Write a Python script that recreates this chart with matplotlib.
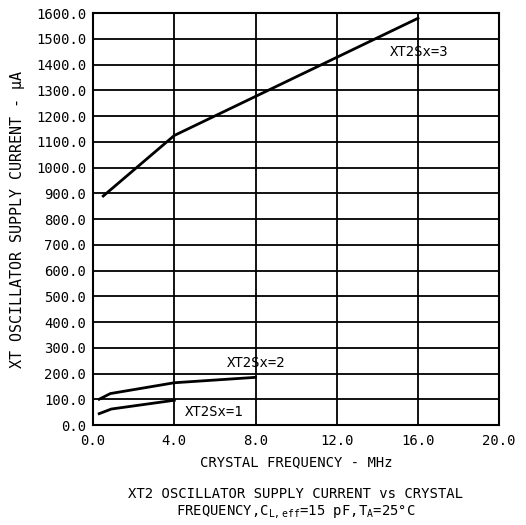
import numpy as np
import matplotlib
matplotlib.use("Agg")
import matplotlib.pyplot as plt

plt.rcParams['font.family'] = ['DejaVu Sans Mono', 'DejaVu Sans']
plt.rcParams['mathtext.default'] = 'regular'

# XT2 oscillator supply current (uA) vs crystal frequency (MHz)
f_x3 = [0.5, 4.0, 16.0]
i_x3 = [890.0, 1125.0, 1580.0]

f_x2 = [0.3, 0.85, 4.0, 8.0]
i_x2 = [101.0, 123.0, 165.0, 186.0]

f_x1 = [0.3, 0.9, 4.0]
i_x1 = [45.0, 63.0, 97.0]

xticks = [0, 4, 8, 12, 16, 20]
yticks = list(range(0, 1700, 100))

fs = 10.0
fig = plt.figure(figsize=(5.26, 5.25), dpi=100)
ax = fig.add_axes([0.177, 0.19, 0.772, 0.785])

for f, i in [(f_x3, i_x3), (f_x2, i_x2), (f_x1, i_x1)]:
    ax.plot(f, i, color='black', lw=2.0, zorder=3)

ax.set_xlim(0, 20)
ax.set_ylim(0, 1600)
ax.set_xticks(xticks)
ax.set_yticks(yticks)
ax.set_xticklabels([f"{v:.1f}" for v in xticks], fontsize=fs)
ax.set_yticklabels([f"{v:.1f}" for v in yticks], fontsize=fs)
ax.tick_params(length=0)
ax.tick_params(axis='x', pad=6)
ax.tick_params(axis='y', pad=5)
ax.grid(True, color='black', lw=1.3)
for s in ax.spines.values():
    s.set_linewidth(1.5)

ax.text(14.6, 1450, "XT2Sx=3", fontsize=fs, va='center')
ax.text(6.6, 241, "XT2Sx=2", fontsize=fs, va='center')
ax.text(4.5, 52, "XT2Sx=1", fontsize=fs, va='center')

fig.text(0.563, 0.12, "CRYSTAL FREQUENCY - MHz", ha='center', va='center', fontsize=fs)
fig.text(0.034, 0.582, r"XT OSCILLATOR SUPPLY CURRENT - $\mu$A", ha='center', va='center',
         rotation=90, fontsize=10.8)
fig.text(0.562, 0.059, "XT2 OSCILLATOR SUPPLY CURRENT vs CRYSTAL",
         ha='center', va='center', fontsize=fs)
fig.text(0.562, 0.025, "FREQUENCY,C$_{L,eff}$=15 pF,T$_A$=25°C",
         ha='center', va='center', fontsize=fs)

fig.savefig("out.png", dpi=100)
